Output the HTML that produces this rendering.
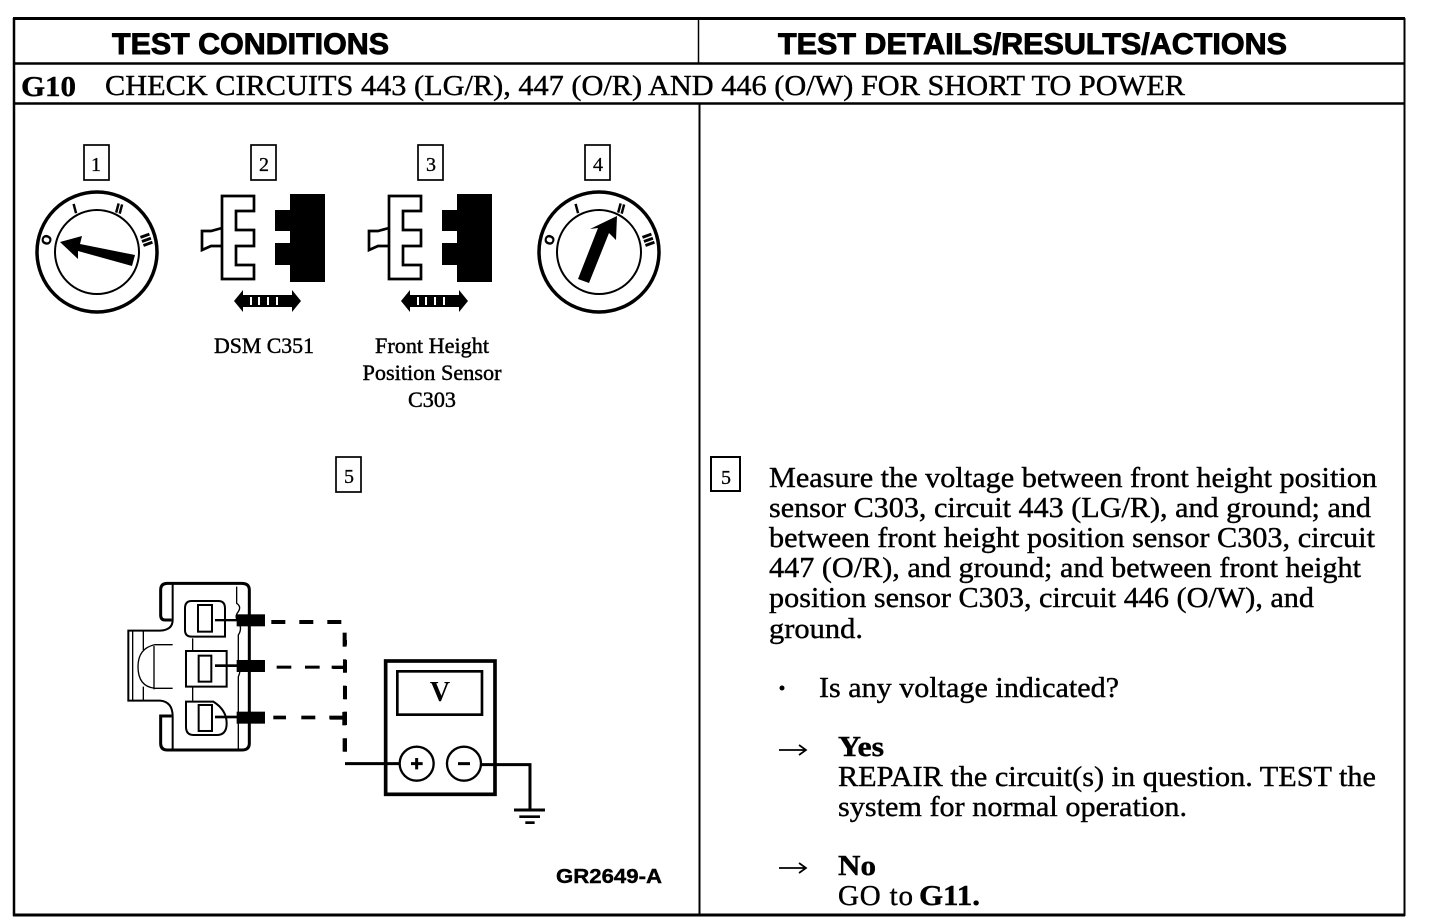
<!DOCTYPE html>
<html><head><meta charset="utf-8"><style>
html,body{margin:0;padding:0;background:#fff;width:1440px;height:922px;overflow:hidden}
svg{display:block}
text{fill:#000}
.s{font-family:"Liberation Serif",serif}
.h{font-family:"Liberation Sans",sans-serif;font-weight:700}
.b{font-size:29px;font-family:"Liberation Serif",serif;stroke:#000;stroke-width:.4px}
.c{font-size:22px;font-family:"Liberation Serif",serif;text-anchor:middle;stroke:#000;stroke-width:.45px}
.n{font-size:20px;font-family:"Liberation Serif",serif;text-anchor:middle;stroke:#000;stroke-width:.3px}
.d{font-size:13px;font-family:"Liberation Sans",sans-serif;font-weight:700;text-anchor:middle;stroke:#000;stroke-width:.6px}
</style></head><body>
<svg width="1440" height="922" viewBox="0 0 1440 922" xmlns="http://www.w3.org/2000/svg">
<rect width="1440" height="922" fill="#fff"/>
<!-- frame -->
<g stroke="#000" fill="none">
<line x1="13" y1="18.5" x2="1405" y2="18.5" stroke-width="3"/>
<line x1="13" y1="915" x2="1405" y2="915" stroke-width="3"/>
<line x1="14" y1="18" x2="14" y2="916" stroke-width="2.5"/>
<line x1="1404.5" y1="18" x2="1404.5" y2="916" stroke-width="2"/>
<line x1="14" y1="63.5" x2="1405" y2="63.5" stroke-width="2.5"/>
<line x1="14" y1="103.5" x2="1405" y2="103.5" stroke-width="2.5"/>
<line x1="698.5" y1="19" x2="698.5" y2="63" stroke-width="1.5"/>
<line x1="699.5" y1="104" x2="699.5" y2="915" stroke-width="2"/>
</g>
<!-- headers -->
<text class="h" x="112" y="54" font-size="30" textLength="277" lengthAdjust="spacingAndGlyphs" stroke="#000" stroke-width=".9">TEST CONDITIONS</text>
<text class="h" x="778" y="54" font-size="30" textLength="509" lengthAdjust="spacingAndGlyphs" stroke="#000" stroke-width=".9">TEST DETAILS/RESULTS/ACTIONS</text>
<text class="s" x="21" y="96" font-size="29" font-weight="700" textLength="55" lengthAdjust="spacingAndGlyphs" stroke="#000" stroke-width=".4">G10</text>
<text class="s" x="105" y="95" font-size="29" textLength="1080" lengthAdjust="spacingAndGlyphs" stroke="#000" stroke-width=".4">CHECK CIRCUITS 443 (LG/R), 447 (O/R) AND 446 (O/W) FOR SHORT TO POWER</text>

<!-- number boxes -->
<g fill="#fff" stroke="#000" stroke-width="1.7">
<rect x="84" y="145" width="25" height="35"/>
<rect x="251" y="145" width="25" height="35"/>
<rect x="418" y="145" width="25" height="35"/>
<rect x="585" y="145" width="25" height="35"/>
<rect x="336" y="457" width="25" height="35"/>
<rect x="711" y="457" width="29" height="34" stroke-width="2"/>
</g>
<text class="n" x="96" y="171">1</text>
<text class="n" x="264" y="171">2</text>
<text class="n" x="431" y="171">3</text>
<text class="n" x="598" y="171">4</text>
<text class="n" x="349" y="483">5</text>
<text class="n" x="726" y="484">5</text>

<!-- dials -->
<g fill="none" stroke="#000">
<circle cx="97" cy="252" r="60" stroke-width="3.5"/>
<circle cx="97" cy="252" r="42" stroke-width="2"/>
<circle cx="599" cy="252" r="60" stroke-width="3.5"/>
<circle cx="599" cy="252" r="42" stroke-width="2"/>
</g>
<polygon points="60,242 82,236 80,244 135,255 132,266 78,251 78,259" fill="#000"/>
<polygon points="617,216 616,240 609,233 589,283 578,279 598,228 590,229" fill="#000"/>
<text class="d" x="47" y="244" transform="rotate(-70 47 240)">O</text>
<text class="d" x="75" y="213" transform="rotate(-15 75 209)">I</text>
<text class="d" x="119" y="213" transform="rotate(15 119 209)">II</text>
<text class="d" x="146" y="244" transform="rotate(70 146 240)" textLength="13" lengthAdjust="spacingAndGlyphs">III</text>
<text class="d" x="550" y="244" transform="rotate(-70 550 240)">O</text>
<text class="d" x="577" y="213" transform="rotate(-15 577 209)">I</text>
<text class="d" x="621" y="213" transform="rotate(15 621 209)">II</text>
<text class="d" x="648" y="244" transform="rotate(70 648 240)" textLength="13" lengthAdjust="spacingAndGlyphs">III</text>

<!-- connectors -->
<g>
<path d="M222,196 H254 V211 H236 V230 H254 V246 H236 V265 H254 V279 H222 Z M222,228 L211,231 H202 V250 L211,246 H222" fill="#fff" stroke="#000" stroke-width="2.7"/>
<path d="M290,194 H325 V282 H290 V265 H275 V243 H290 V231 H275 V210 H290 Z" fill="#000"/>
<path d="M234,301 L243,290 V312 Z M301,301 L292,290 V312 Z" fill="#000"/>
<rect x="243" y="295" width="50" height="12" fill="#000"/>
<path d="M250,297 h2 v8 h-2z M258,297 h2 v8 h-2z M267,297 h2 v8 h-2z M276,297 h2 v8 h-2z" fill="#fff"/>
</g>
<g transform="translate(167 0)">
<path d="M222,196 H254 V211 H236 V230 H254 V246 H236 V265 H254 V279 H222 Z M222,228 L211,231 H202 V250 L211,246 H222" fill="#fff" stroke="#000" stroke-width="2.7"/>
<path d="M290,194 H325 V282 H290 V265 H275 V243 H290 V231 H275 V210 H290 Z" fill="#000"/>
<path d="M234,301 L243,290 V312 Z M301,301 L292,290 V312 Z" fill="#000"/>
<rect x="243" y="295" width="50" height="12" fill="#000"/>
<path d="M250,297 h2 v8 h-2z M258,297 h2 v8 h-2z M267,297 h2 v8 h-2z M276,297 h2 v8 h-2z" fill="#fff"/>
</g>

<!-- labels -->
<text class="c" x="264" y="353" textLength="100" lengthAdjust="spacingAndGlyphs">DSM C351</text>
<text class="c" x="432" y="353" textLength="114" lengthAdjust="spacingAndGlyphs">Front Height</text>
<text class="c" x="432" y="380" textLength="139" lengthAdjust="spacingAndGlyphs">Position Sensor</text>
<text class="c" x="432" y="407" textLength="48" lengthAdjust="spacingAndGlyphs">C303</text>

<!-- bottom connector -->
<g transform="translate(110 570) scale(.3333)" fill="none" stroke="#000">
<path d="M185,150 H165 Q152,150 152,135 V60 Q152,40 172,40 H395 Q418,40 418,60 V520 Q418,540 395,540 H172 Q152,540 152,520 V438 H185" stroke-width="9"/>
<path d="M188,40 V150 Q188,180 150,182 H55 V392 H150 Q188,395 188,440 V540" stroke-width="6"/>
<path d="M68,182 V392" stroke-width="4"/>
<path d="M100,182 V240 M100,350 V392" stroke-width="4"/>
<path d="M188,224 H135 Q84,235 84,290 Q84,350 135,355 H188 M132,228 V358" stroke-width="4"/>
<path d="M380,50 V100 Q395,110 385,125 Q372,140 385,155 Q398,175 385,195 V270 Q395,300 385,320 V540" stroke-width="4"/>
<path d="M345,200 H245 Q225,200 225,180 V115 Q225,93 245,93 H325 Q345,93 345,115 Z" stroke-width="6"/>
<path d="M228,243 H350 V350 H228 Z" fill="#fff" stroke-width="6"/>
<path d="M228,395 H310 Q350,420 350,460 Q350,495 320,495 H250 Q228,495 228,470 Z" stroke-width="6"/>
<path d="M248,205 V243 M248,352 V392" stroke-width="4"/>
<rect x="264" y="105" width="42" height="80" stroke-width="6"/>
<rect x="266" y="257" width="38" height="78" stroke-width="6"/>
<rect x="266" y="405" width="40" height="78" stroke-width="6"/>
<g fill="#000" stroke="none">
<rect x="380" y="133" width="85" height="36"/>
<rect x="315" y="147" width="70" height="7"/>
<rect x="380" y="270" width="85" height="36"/>
<rect x="315" y="283" width="70" height="8"/>
<rect x="380" y="425" width="85" height="36"/>
<rect x="315" y="437" width="70" height="8"/>
<rect x="484" y="150" width="42" height="12"/><rect x="568" y="150" width="42" height="12"/><rect x="652" y="150" width="42" height="12"/>
<rect x="500" y="287" width="44" height="9"/><rect x="585" y="287" width="44" height="9"/><rect x="665" y="287" width="44" height="9"/>
<rect x="490" y="437" width="38" height="11"/><rect x="574" y="437" width="42" height="11"/><rect x="658" y="437" width="46" height="11"/>
<rect x="698" y="188" width="12" height="42"/><rect x="699" y="268" width="10" height="40"/><rect x="699" y="347" width="10" height="40"/><rect x="697" y="426" width="12" height="40"/><rect x="698" y="505" width="12" height="40"/>
</g>
</g>

<!-- meter -->
<g transform="translate(330 640) scale(.3333)" fill="none" stroke="#000">
<rect x="167" y="63" width="328" height="400" stroke-width="11" fill="#fff"/>
<rect x="202" y="94" width="254" height="130" stroke-width="8"/>
<circle cx="260" cy="371" r="51" stroke-width="7" fill="#fff"/>
<circle cx="402" cy="371" r="51" stroke-width="7" fill="#fff"/>
<path d="M45,371 H209 M453,374 H600 V510" stroke-width="9"/>
<path d="M552,510 H645" stroke-width="9"/>
<path d="M568,530 H630" stroke-width="8"/>
<path d="M586,548 H614" stroke-width="8"/>
<path d="M243,371 H278 M260,354 V388" stroke-width="9"/>
<path d="M384,371 H420" stroke-width="9"/>
<rect x="40" y="295" width="11" height="40" fill="#000" stroke="none"/>
<rect x="40" y="0" width="11" height="15" fill="#000" stroke="none"/>
<rect x="40" y="60" width="11" height="38" fill="#000" stroke="none"/>
<rect x="40" y="138" width="11" height="40" fill="#000" stroke="none"/>
<rect x="40" y="215" width="11" height="40" fill="#000" stroke="none"/>
<rect x="8" y="78" width="32" height="9" fill="#000" stroke="none"/>
<rect x="0" y="230" width="40" height="9" fill="#000" stroke="none"/>
</g>
<text x="440" y="701" font-family="Liberation Serif, serif" font-weight="700" font-size="28" text-anchor="middle">V</text>
<text class="h" x="556" y="883" font-size="20" textLength="106" lengthAdjust="spacingAndGlyphs" stroke="#000" stroke-width=".4">GR2649-A</text>

<!-- body text -->
<text class="b" x="769" y="487" textLength="608" lengthAdjust="spacingAndGlyphs">Measure the voltage between front height position</text>
<text class="b" x="769" y="517" textLength="602" lengthAdjust="spacingAndGlyphs">sensor C303, circuit 443 (LG/R), and ground; and</text>
<text class="b" x="769" y="547" textLength="606" lengthAdjust="spacingAndGlyphs">between front height position sensor C303, circuit</text>
<text class="b" x="769" y="577" textLength="592" lengthAdjust="spacingAndGlyphs">447 (O/R), and ground; and between front height</text>
<text class="b" x="769" y="607" textLength="545" lengthAdjust="spacingAndGlyphs">position sensor C303, circuit 446 (O/W), and</text>
<text class="b" x="769" y="638" textLength="94" lengthAdjust="spacingAndGlyphs">ground.</text>
<circle cx="782" cy="688" r="2.5" fill="#000"/>
<text class="b" x="819" y="697" textLength="300" lengthAdjust="spacingAndGlyphs">Is any voltage indicated?</text>
<g stroke="#000" fill="none" stroke-width="1.7">
<path d="M779,750 H806 M799,745 L806,750 L799,755"/>
<path d="M779,868 H806 M799,863 L806,868 L799,873"/>
</g>
<text class="s" x="838" y="756" font-size="29" font-weight="700" textLength="46" lengthAdjust="spacingAndGlyphs" stroke="#000" stroke-width=".4">Yes</text>
<text class="b" x="838" y="786" textLength="538" lengthAdjust="spacingAndGlyphs">REPAIR the circuit(s) in question. TEST the</text>
<text class="b" x="838" y="816" textLength="349" lengthAdjust="spacingAndGlyphs">system for normal operation.</text>
<text class="s" x="838" y="875" font-size="29" font-weight="700" textLength="38" lengthAdjust="spacingAndGlyphs" stroke="#000" stroke-width=".4">No</text>
<text class="b" x="838" y="905" textLength="75">GO to</text>
<text class="s" x="919" y="905" font-size="29" font-weight="700" textLength="61" lengthAdjust="spacingAndGlyphs" stroke="#000" stroke-width=".4">G11.</text>
</svg>
</body></html>
